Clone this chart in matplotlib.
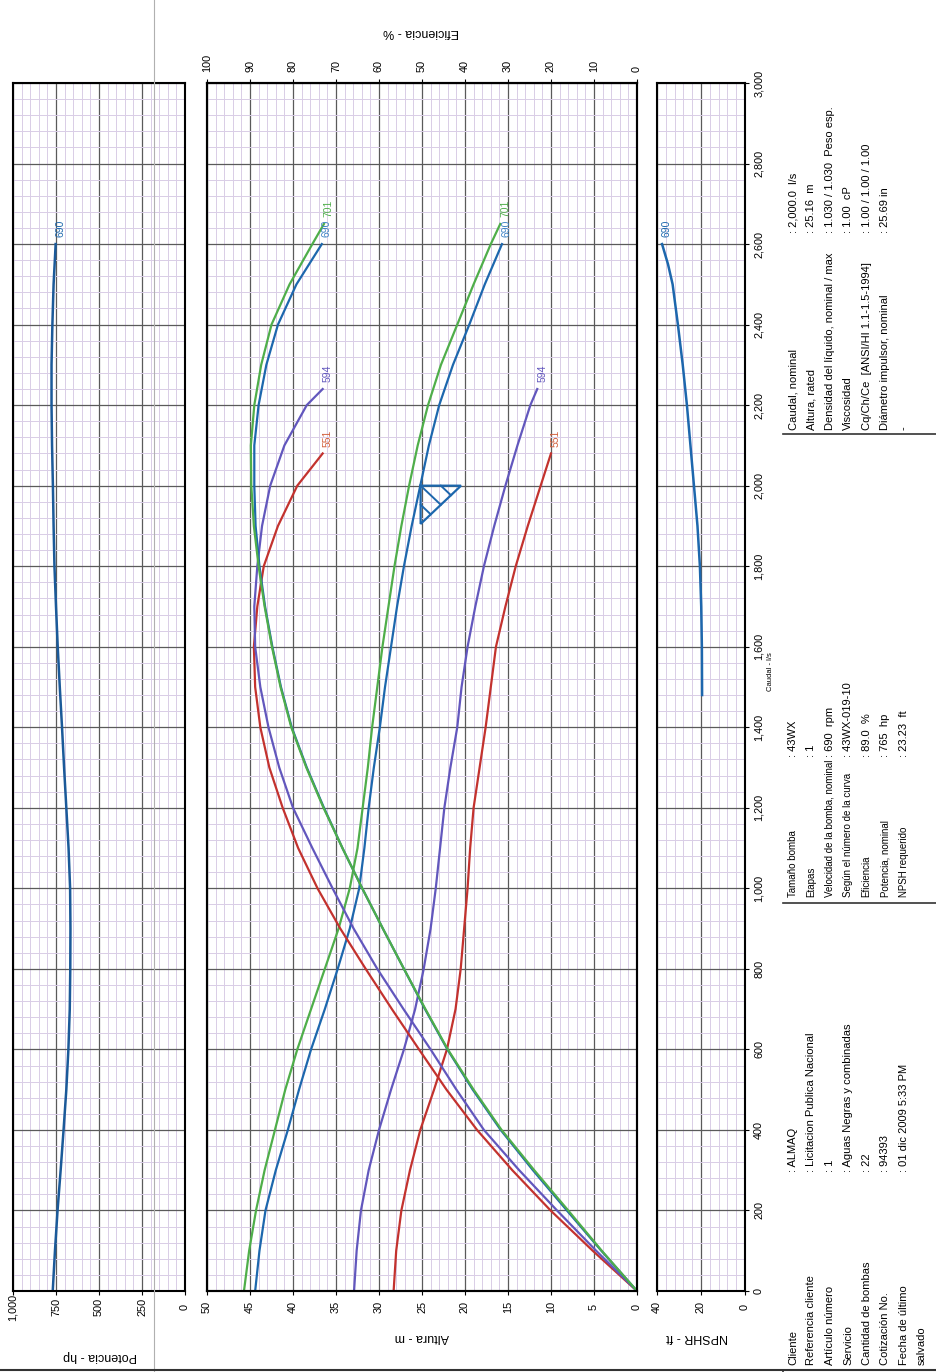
import matplotlib
matplotlib.use('Agg')
import matplotlib.pyplot as plt
from matplotlib.lines import Line2D
from matplotlib.ticker import MultipleLocator

plt.rcParams['font.family'] = ['Liberation Sans', 'DejaVu Sans']

# ---- datos (caudal en l/s) ----
caudal_701 = [0, 100, 200, 300, 400, 500, 600, 700, 800, 900, 1000, 1100, 1200, 1300, 1400,
              1500, 1600, 1700, 1800, 1900, 2000, 2100, 2200, 2300, 2400, 2500, 2600, 2650]
altura_701 = [45.7, 45.1, 44.3, 43.3, 42.1, 40.9, 39.5, 37.9, 36.3, 34.7, 33.4, 32.5, 31.9, 31.3, 30.8,
              30.2, 29.6, 28.9, 28.2, 27.4, 26.5, 25.5, 24.3, 22.8, 20.9, 19.0, 17.0, 15.9]
efic_701 = [0, 8.2, 16.0, 23.9, 31.5, 38.0, 44.0, 49.2, 54.2, 59.1, 63.9, 68.5, 72.9, 76.9, 80.4,
            82.9, 84.9, 86.6, 88.0, 89.1, 89.7, 89.8, 89.0, 87.4, 85.0, 80.8, 75.5, 72.8]

caudal_690 = [0, 100, 200, 300, 400, 500, 600, 700, 800, 900, 1000, 1100, 1200, 1300, 1400,
              1500, 1600, 1700, 1800, 1900, 2000, 2100, 2200, 2300, 2400, 2500, 2600]
altura_690 = [44.4, 43.9, 43.2, 42.0, 40.6, 39.3, 37.9, 36.3, 34.8, 33.4, 32.3, 31.7, 31.2, 30.6, 29.9,
              29.3, 28.6, 27.9, 27.1, 26.2, 25.2, 24.2, 23.0, 21.4, 19.5, 17.7, 15.7]
efic_690 = [0, 8.3, 16.3, 24.2, 31.7, 38.2, 44.1, 49.3, 54.2, 59.1, 63.9, 68.5, 72.8, 76.8, 80.3,
            82.8, 84.8, 86.5, 87.8, 88.7, 89.0, 89.0, 88.0, 86.2, 83.5, 79.2, 73.3]

caudal_594 = [0, 100, 200, 300, 400, 500, 600, 700, 800, 900, 1000, 1100, 1200, 1300, 1400,
              1500, 1600, 1700, 1800, 1900, 2000, 2100, 2200, 2240]
altura_594 = [32.9, 32.6, 32.1, 31.2, 30.0, 28.6, 27.1, 25.8, 24.8, 24.0, 23.4, 22.9, 22.4, 21.7, 20.9,
              20.4, 19.7, 18.8, 17.8, 16.6, 15.3, 13.9, 12.4, 11.6]
efic_594 = [0, 9.5, 18.6, 27.4, 35.6, 42.0, 48.0, 54.3, 60.4, 65.9, 70.8, 75.5, 80.0, 83.2, 85.7,
            87.6, 88.8, 89.0, 88.3, 87.2, 85.3, 82.0, 76.8, 73.1]

caudal_551 = [0, 100, 200, 300, 400, 500, 600, 700, 800, 900, 1000, 1100, 1200, 1300, 1400,
              1500, 1600, 1700, 1800, 1900, 2000, 2080]
altura_551 = [28.3, 28.0, 27.4, 26.4, 25.2, 23.6, 22.1, 21.1, 20.5, 20.1, 19.7, 19.4, 19.0, 18.3, 17.6,
              17.0, 16.4, 15.3, 14.1, 12.7, 11.2, 10.0]
efic_551 = [0, 10.3, 20.1, 29.0, 37.2, 44.3, 50.7, 57.0, 63.1, 69.0, 74.3, 78.8, 82.4, 85.5, 87.6,
            88.8, 89.1, 88.3, 86.8, 83.5, 79.0, 73.1]

caudal_pot = [0, 100, 200, 300, 400, 500, 600, 700, 800, 900, 1000, 1100, 1200, 1300,
              1400, 1500, 1600, 1700, 1800, 1900, 2000, 2100, 2200, 2300, 2400, 2500, 2600]
potencia_690 = [769, 756, 741, 723, 706, 690, 678, 670, 667, 666, 668, 677, 690, 703,
                715, 728, 740, 750, 759, 764, 768, 773, 776, 776, 771, 764, 752]

caudal_npsh = [1480, 1600, 1700, 1800, 1900, 2000, 2100, 2200, 2300, 2400, 2500, 2550, 2600]
npshr_690 = [19.5, 19.6, 19.9, 20.5, 21.6, 23.2, 24.8, 26.4, 28.3, 30.5, 32.9, 35.0, 37.7]

q_nominal = 2000.0
h_nominal = 25.16

# tabla de datos
col1_tit = ['Cliente', 'Referencia cliente', 'Artículo número', 'Servicio',
            'Cantidad de bombas', 'Cotización No.', 'Fecha de último', 'salvado']
col1_val = [': ALMAQ', ': Licitacion Publica Nacional', ': 1', ': Aguas Negras y combinadas',
            ': 22', ': 94393', ': 01 dic 2009 5:33 PM', '']
col2_tit = ['Tamaño bomba', 'Etapas', 'Velocidad de la bomba, nominal', 'Según el número de la curva',
            'Eficiencia', 'Potencia, nominal', 'NPSH requerido']
col2_val = [': 43WX', ': 1', ': 690  rpm', ': 43WX-019-10', ': 89.0  %', ': 765  hp', ': 23.23  ft']
col3_tit = ['Caudal, nominal', 'Altura, rated', 'Densidad del líquido, nominal / max', 'Viscosidad',
            'Cq/Ch/Ce  [ANSI/HI 1.1-1.5-1994]', 'Diámetro impulsor, nominal', '-']
col3_val = [': 2,000.0  l/s', ': 25.16  m', ': 1.030 / 1.030  Peso esp.', ': 1.00  cP',
            ': 1.00 / 1.00 / 1.00', ': 25.69 in', '']

# colores
c_701 = '#4fae4a'
c_690 = '#1d67ad'
c_594 = '#6257bd'
c_551 = '#c3322e'
c_pot = '#1b5a99'
c_min = '#d9cde6'
c_maj = '#5a5a5a'

W, H = 936, 1372
fig = plt.figure(figsize=(W / 100, H / 100), dpi=100)


def caja(x0, x1, y0, y1):
    # pixeles desde arriba-izquierda -> fraccion de figura
    return [x0 / W, 1 - y1 / H, (x1 - x0) / W, (y1 - y0) / H]


def px(x, y):
    return x / W, 1 - y / H


def miles(v):
    return f'{v:,.0f}'


def grilla(ax, paso_min):
    ax.xaxis.set_minor_locator(MultipleLocator(paso_min))
    ax.yaxis.set_major_locator(MultipleLocator(200))
    ax.yaxis.set_minor_locator(MultipleLocator(40))
    ax.grid(which='minor', color=c_min, lw=0.7)
    ax.grid(which='major', color=c_maj, lw=0.9)
    ax.set_axisbelow(True)
    for s in ax.spines.values():
        s.set_linewidth(1.5)
    ax.set_ylim(0, 3000)
    ax.tick_params(which='minor', length=0)
    ax.tick_params(axis='y', which='both', left=False, labelleft=False)
    ax.tick_params(axis='x', length=3, width=0.8, direction='out', pad=8.5, labelsize=7.8)


def poner_xticks(ax, ticks):
    ax.set_xticks(ticks)
    ax.set_xticklabels([miles(t) for t in ticks], rotation=90, va='center', ha='center')


def etiqueta(ax, txt, x, y, color):
    ax.annotate(txt, xy=(x, y), xytext=(3.5, 5), textcoords='offset points',
                rotation=90, ha='center', va='bottom', fontsize=7.5, color=color)


# ---- Potencia ----
ax_p = fig.add_axes(caja(13, 185, 83, 1291))
grilla(ax_p, 50)
ax_p.set_xlim(1000, 0)
poner_xticks(ax_p, [0, 250, 500, 750, 1000])
ax_p.plot(potencia_690, caudal_pot, color=c_pot, lw=1.8)
etiqueta(ax_p, '690', potencia_690[-1], caudal_pot[-1], c_690)

# ---- Altura / Eficiencia ----
ax_h = fig.add_axes(caja(207, 637, 83, 1291))
grilla(ax_h, 1)
ax_h.set_xlim(50, 0)
poner_xticks(ax_h, list(range(0, 51, 5)))

curvas = [(caudal_551, altura_551, efic_551, c_551, '551', '#d2603c'),
          (caudal_594, altura_594, efic_594, c_594, '594', c_594),
          (caudal_690, altura_690, efic_690, c_690, '690', '#3d82c4'),
          (caudal_701, altura_701, efic_701, c_701, '701', c_701)]

ax_e = ax_h.twiny()
ax_e.set_xlim(100, 0)
ax_e.set_ylim(0, 3000)
ax_e.set_xticks(list(range(0, 101, 10)))
ax_e.set_xticklabels([str(t) for t in range(0, 101, 10)], rotation=90, va='bottom', ha='center')
ax_e.tick_params(axis='x', length=3, width=0.8, direction='out', pad=5, labelsize=7.8)
ax_e.tick_params(axis='y', left=False, labelleft=False)
for s in ax_e.spines.values():
    s.set_linewidth(1.5)

for q, h, e, c, nom, ct in curvas:
    ax_h.plot(h, q, color=c, lw=1.6)
    ax_e.plot(e, q, color=c, lw=1.6)
    etiqueta(ax_h, nom, h[-1], q[-1], ct)
    etiqueta(ax_e, nom, e[-1], q[-1], ct)

# punto nominal (triangulo rayado)
dh, dq = 4.7, 95
tri_h = [h_nominal, h_nominal - dh, h_nominal, h_nominal]
tri_q = [q_nominal, q_nominal, q_nominal - dq, q_nominal]
ax_h.plot(tri_h, tri_q, color=c_690, lw=1.6, solid_joinstyle='miter')
for t in (0.25, 0.5, 0.75):
    u0, v0 = 1 - t, t
    if t < 0.5:
        u1, v1 = 1 - 2 * t, 0
    else:
        u1, v1 = 0, 2 * t - 1
    ax_h.plot([h_nominal - u0 * dh, h_nominal - u1 * dh], [q_nominal - v0 * dq, q_nominal - v1 * dq],
              color=c_690, lw=1.4)

# ---- NPSHR ----
ax_n = fig.add_axes(caja(657, 745, 83, 1291))
grilla(ax_n, 4)
ax_n.set_xlim(40, 0)
poner_xticks(ax_n, [0, 20, 40])
ax_n.tick_params(axis='y', which='major', right=True, labelright=True, length=3, width=0.8,
                 direction='out', pad=3.5, labelsize=7.8)
ax_n.set_yticks(list(range(0, 3001, 200)))
ax_n.set_yticklabels([miles(t) for t in range(0, 3001, 200)], rotation=90, va='center', ha='left')
ax_n.plot(npshr_690, caudal_npsh, color=c_690, lw=1.8)
etiqueta(ax_n, '690', npshr_690[-1], caudal_npsh[-1], c_690)

# titulos de ejes
fig.text(*px(100, 1356), 'Potencia - hp', rotation=180, ha='center', va='center', fontsize=9)
fig.text(*px(422, 1337), 'Altura - m', rotation=180, ha='center', va='center', fontsize=9)
fig.text(*px(697, 1337), 'NPSHR - ft', rotation=180, ha='center', va='center', fontsize=9)
fig.text(*px(421, 32), 'Eficiencia - %', rotation=180, ha='center', va='center', fontsize=9)
fig.text(*px(771, 672), 'Caudal - l/s', rotation=90, ha='center', va='center', fontsize=5.5)

# lineas del marco
fig.add_artist(Line2D([154 / W, 154 / W], [0, 1], color='#b0b0b0', lw=0.8))
fig.add_artist(Line2D([783 / W, 783 / W], [0, 1 - 1370 / H], color='#333333', lw=1.2))
fig.add_artist(Line2D([0, 1], [1 - 1370 / H, 1 - 1370 / H], color='#333333', lw=1.5))
for yy in (434, 903):
    fig.add_artist(Line2D([783 / W, 1], [1 - yy / H, 1 - yy / H], color='#333333', lw=1.2))

# tabla
fila_x = [793 + 18.43 * i for i in range(8)]
for tit, val, y_tit, y_val, fs_tit in [(col1_tit, col1_val, 1365, 1172, 8),
                                       (col2_tit, col2_val, 897, 757, 7),
                                       (col3_tit, col3_val, 430, 233, 8)]:
    for i in range(len(tit)):
        fig.text(*px(fila_x[i], y_tit), tit[i], rotation=90, ha='center', va='bottom', fontsize=fs_tit)
        if val[i]:
            fig.text(*px(fila_x[i], y_val), val[i], rotation=90, ha='center', va='bottom', fontsize=8)

fig.savefig('out.png', dpi=100)
